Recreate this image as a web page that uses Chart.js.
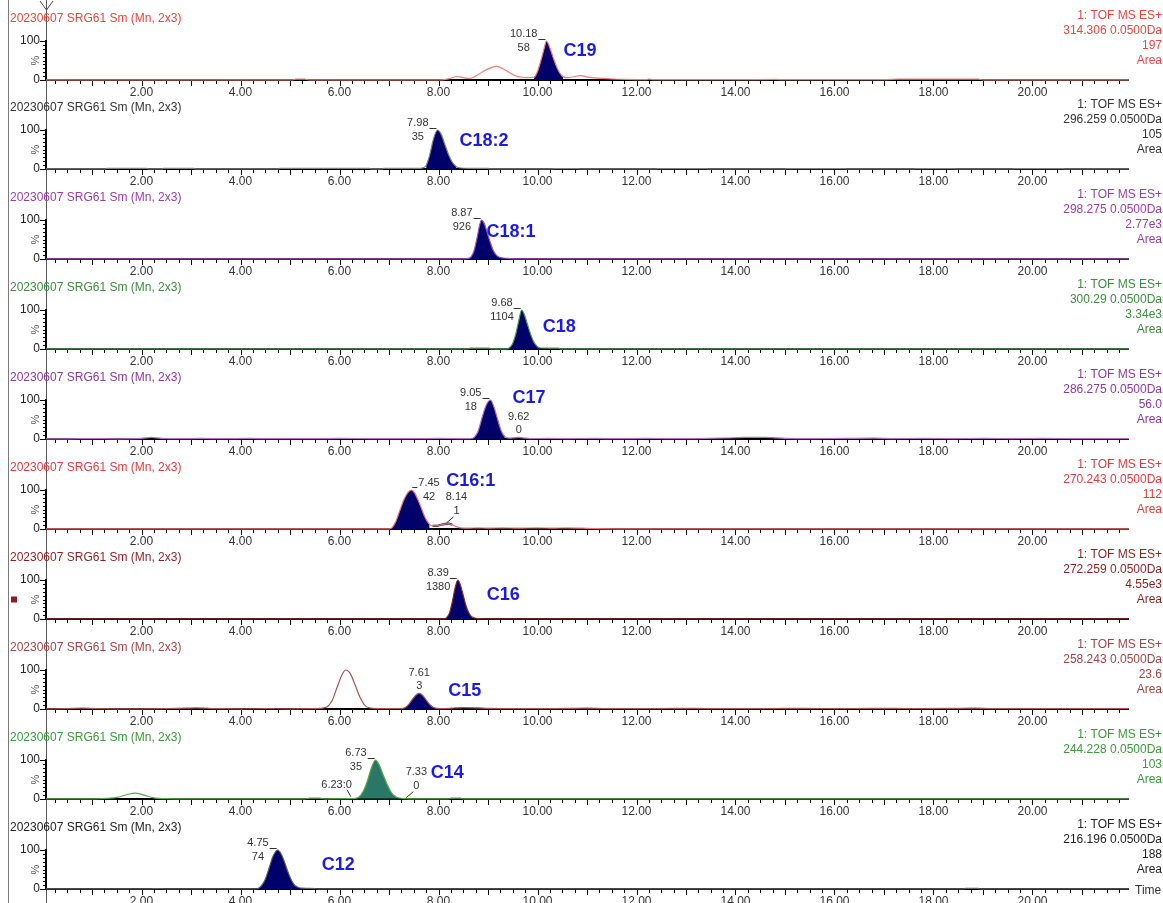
<!DOCTYPE html>
<html>
<head>
<meta charset="utf-8">
<script src="https://cdn.jsdelivr.net/npm/chart.js@4.4.0/dist/chart.umd.min.js"></script>
<style>
  html, body { margin: 0; padding: 0; background: #fff; }
  #wrap { position: relative; width: 1163px; height: 903px; overflow: hidden; background: #fff; }
  #wrap canvas { position: absolute; left: 0; }
  #frame { position: absolute; left: 8px; top: 0; width: 1px; height: 903px; background: #7a7a7a; }
  #cursor { position: absolute; left: 46px; top: 0; width: 1px; height: 903px; background: #555; }
</style>
</head>
<body>
<div id="wrap"><div id="frame"></div><div id="cursor"></div></div>
<script>
// ---- chromatogram data: time (min) vs relative intensity (%) ----
const sampleTitle = '20230607 SRG61 Sm (Mn, 2x3)';
const scanMode = '1: TOF MS ES+';
const compounds = ['C19', 'C18:2', 'C18:1', 'C18', 'C17', 'C16:1', 'C16', 'C15', 'C14', 'C12'];
const massWindows = ['314.306 0.0500Da', '296.259 0.0500Da', '298.275 0.0500Da', '300.29 0.0500Da',
  '286.275 0.0500Da', '270.243 0.0500Da', '272.259 0.0500Da', '258.243 0.0500Da',
  '244.228 0.0500Da', '216.196 0.0500Da'];
const fullScale = ['197', '105', '2.77e3', '3.34e3', '56.0', '112', '4.55e3', '23.6', '103', '188'];
const timeTicks = [2, 4, 6, 8, 10, 12, 14, 16, 18, 20];
const percentTicks = [0, 100];
const timeRange = [0.07, 21.95];

const traceC19 = [[0.07,0.4],[1.0,0.4],[2.0,0.4],[3.0,0.4],[4.0,0.4],[5.05,0.4],[5.12,2],[5.3,2],[5.38,0.4],[6.0,0.4],[7.0,0.4],
  [8.05,0.5],[8.2,3],[8.38,9],[8.5,6],[8.63,4],[8.75,10],[8.9,22],[9.05,31],[9.17,35],[9.3,29],[9.42,20],[9.55,11],[9.68,7],[9.82,6],
  [9.93,7],[10.0,22],[10.08,55],[10.14,84],[10.18,100],[10.24,86],[10.31,60],[10.38,36],[10.45,18],[10.52,8],[10.62,6],[10.75,9],
  [10.87,11],[11.0,8],[11.12,6],[11.3,4],[11.5,2.5],[11.8,1.5],[12.2,1],[12.25,2],[12.35,1],[13.0,0.8],[14.0,0.8],[14.8,1.5],[15.0,0.8],
  [16.0,0.8],[17.0,0.8],[17.3,2],[18.9,2],[19.0,0.5],[20.0,0.5],[21.0,0.5],[21.95,0.5]];
const areaC19 = [9.93, 10.52];
const peaksC19 = [[10.18, '58']];

const traceC18d2 = [[0.07,0.3],[1.25,0.3],[1.3,1.5],[2.1,1.5],[2.15,0.3],[2.4,0.3],[2.45,1.5],[3.05,1.5],[3.1,0.3],[4.75,0.3],[4.8,1.5],
  [6.6,1.5],[6.65,0.3],[6.85,0.3],[6.9,1.5],[7.6,1.5],[7.68,3],[7.75,9],[7.82,35],[7.9,78],[7.98,100],[8.05,90],[8.12,66],[8.2,38],
  [8.28,17],[8.36,6],[8.45,2.5],[8.6,1.5],[9.0,1.5],[9.05,0.3],[10.3,0.3],[10.35,1.2],[10.8,1.2],[10.85,0.3],[12.4,0.3],[12.45,1.2],
  [13.4,1.2],[13.45,0.3],[15.0,0.3],[15.05,1.2],[16.2,1.2],[16.25,0.3],[17.6,0.3],[17.65,1.2],[18.4,1.2],[18.45,0.3],[19.6,0.3],
  [19.65,1.2],[20.6,1.2],[20.65,0.3],[21.95,0.3]];
const areaC18d2 = [7.72, 8.4];
const peaksC18d2 = [[7.98, '35']];

const traceC18d1 = [[0.07,0.3],[8.5,0.3],[8.6,1.5],[8.66,6],[8.72,22],[8.78,55],[8.83,86],[8.87,100],[8.92,92],[8.98,70],[9.04,45],
  [9.1,24],[9.16,11],[9.22,5],[9.3,2.5],[9.45,1.2],[9.6,0.3],[21.95,0.3]];
const areaC18d1 = [8.6, 9.3];
const peaksC18d1 = [[8.87, '926']];

const traceC18 = [[0.07,0.3],[8.6,0.3],[8.64,2],[9.02,2],[9.06,0.3],[9.38,0.5],[9.44,4],[9.5,15],[9.56,38],[9.62,72],[9.68,100],
  [9.73,90],[9.79,66],[9.85,42],[9.91,22],[9.97,10],[10.02,4],[10.06,2.5],[10.42,2],[10.46,0.3],[21.95,0.3]];
const areaC18 = [9.38, 10.06];
const peaksC18 = [[9.68, '1104']];

const traceC17 = [[0.07,0.5],[0.5,0.5],[1.0,1],[1.5,0.5],[2.0,1.5],[2.2,4],[2.4,1.5],[2.8,0.8],[3.2,1.5],[3.6,0.8],[4.2,1.5],[4.5,0.8],
  [5.0,1.2],[5.5,0.8],[6.0,1.5],[6.6,1],[7.0,1.2],[7.5,0.8],[8.0,1.5],[8.4,1],[8.65,1],[8.72,4],[8.8,20],[8.88,55],[8.96,86],[9.05,100],
  [9.12,82],[9.2,48],[9.27,20],[9.34,6],[9.42,2.5],[9.55,3.5],[9.62,4],[9.7,3],[9.85,1],[10.2,1.5],[10.6,1],[11.2,1.5],[11.6,0.8],
  [12.2,1.5],[12.6,1],[13.2,1.2],[13.8,2.5],[14.2,4],[14.6,4],[15.0,1.5],[15.6,1],[16.2,1.5],[16.8,2],[17.2,1],[17.8,1.5],[18.4,1],
  [19.0,1.5],[19.6,1],[20.2,1.5],[20.8,1],[21.4,1.2],[21.95,0.8]];
const areaC17 = [8.68, 9.38];
const peaksC17 = [[9.05, '18'], [9.62, '0']];

const traceC16d1 = [[0.07,0.5],[2.0,0.5],[4.0,0.5],[6.0,0.5],[7.0,0.5],[7.06,3],[7.14,20],[7.22,48],[7.3,75],[7.38,93],[7.45,100],
  [7.52,92],[7.58,76],[7.64,58],[7.7,38],[7.76,22],[7.82,12],[7.88,8],[7.96,8],[8.05,11],[8.14,13],[8.2,14],[8.28,11],[8.36,6],
  [8.45,3],[8.6,2],[8.8,3],[9.0,2],[9.3,3],[9.6,2],[10.0,3],[10.3,2],[10.6,3],[10.9,2],[11.2,1],[12.0,0.5],[21.95,0.5]];
const areaC16d1 = [7.04, 7.84];
const minorC16d1 = [7.88, 8.3];
const peaksC16d1 = [[7.45, '42'], [8.14, '1']];

const traceC16 = [[0.07,0.3],[8.1,0.3],[8.16,3],[8.22,15],[8.28,45],[8.34,82],[8.39,100],[8.44,88],[8.5,60],[8.56,32],[8.62,14],
  [8.68,5],[8.75,2],[8.85,0.8],[9.0,0.3],[21.95,0.3]];
const areaC16 = [8.14, 8.72];
const peaksC16 = [[8.39, '1380']];

const traceC15 = [[0.07,0.5],[0.5,0.8],[0.8,2],[1.1,0.8],[1.5,0.5],[2.0,0.5],[2.5,0.8],[2.9,2],[3.1,3],[3.3,2],[3.6,0.8],[4.0,0.5],
  [4.5,0.8],[5.0,0.5],[5.5,0.8],[5.72,4],[5.85,22],[5.95,55],[6.05,88],[6.13,100],[6.22,90],[6.32,60],[6.42,28],[6.52,8],[6.62,2.5],
  [6.8,1],[7.0,0.8],[7.25,1],[7.32,3],[7.4,12],[7.48,26],[7.56,37],[7.61,40],[7.67,36],[7.74,25],[7.82,12],[7.9,4],[7.98,1.5],
  [8.1,1],[8.3,2.5],[8.5,3.5],[8.8,3],[9.0,1.5],[9.5,1],[10.0,0.8],[10.6,1.5],[11.0,2],[11.4,1],[12.0,0.8],[12.8,1.5],[13.2,1.5],
  [13.6,0.8],[14.5,1],[15.0,1.5],[15.4,1.5],[16.0,1],[16.8,1.5],[17.2,1.5],[17.6,1],[18.4,1.5],[18.8,2],[19.2,1],[20.0,0.8],
  [21.0,1],[21.95,0.8]];
const areaC15 = [7.3, 7.95];
const peaksC15 = [[7.61, '3']];

const traceC14 = [[0.07,0.5],[0.8,0.5],[1.2,1],[1.5,4],[1.7,11],[1.87,15],[2.05,10],[2.25,3],[2.5,1],[3.0,0.5],[4.0,0.5],[5.0,0.5],
  [5.3,0.5],[5.4,2],[5.6,2],[5.7,0.5],[6.23,0.8],[6.32,1.5],[6.4,6],[6.48,20],[6.56,45],[6.64,78],[6.73,100],[6.8,88],[6.88,62],
  [6.96,38],[7.04,18],[7.12,7],[7.2,2.5],[7.33,1],[7.5,0.5],[8.2,0.5],[8.25,2],[8.45,2],[8.5,0.5],[21.95,0.5]];
const areaC14 = [6.32, 7.28];
const peaksC14 = [[6.73, '35'], [6.23, '0'], [7.33, '0']];

const traceC12 = [[0.07,0.3],[2.2,0.3],[2.25,1.2],[2.4,1.2],[2.45,0.3],[4.3,0.3],[4.36,2],[4.42,8],[4.5,25],[4.58,55],[4.66,85],
  [4.75,100],[4.83,88],[4.9,65],[4.97,40],[5.04,20],[5.1,9],[5.17,4],[5.24,2],[5.35,1.5],[5.5,1],[5.6,0.3],[18.6,0.3],[18.65,1.5],
  [18.9,1.5],[18.95,0.3],[21.95,0.3]];
const areaC12 = [4.34, 5.24];
const peaksC12 = [[4.75, '74']];

// ---- appearance ----
const FONT = '"Liberation Sans", Arial, Helvetica, sans-serif';
const textColors  = ['#E8463F', '#333333', '#9A3DA6', '#3C8C3C', '#8A3A9C', '#E23B3B', '#8B1E1E', '#A04545', '#3C983C', '#222222'];
const traceColors = ['#F07C74', '#808080', '#9E50B2', '#4E9E4E', '#B46EC4', '#F07474', '#8E2424', '#A85252', '#58A848', '#606060'];
const fillColors  = ['#00006A', '#00006A', '#00006A', '#00006A', '#00006A', '#00006A', '#00006A', '#00006A', '#2B7767', '#00006A'];
// label placement per peak annotation
const labelModes = [['left'], ['left'], ['left'], ['left'], ['left', 'above'], ['right', 'aboveRight'], ['left'], ['above'],
  ['left', 'inline', 'aboveRight'], ['left']];
// compound name offset from the main apex (px)
const nameOffsets = [[17, 10], [22, 11], [5, 12], [21, 17], [22, -2], [35, -9], [29, 15], [29, -2], [55, 13], [44, 15]];

const panelTraces = [traceC19, traceC18d2, traceC18d1, traceC18, traceC17, traceC16d1, traceC16, traceC15, traceC14, traceC12];
const panelAreas  = [areaC19, areaC18d2, areaC18d1, areaC18, areaC17, areaC16d1, areaC16, areaC15, areaC14, areaC12];
const panelPeaks  = [peaksC19, peaksC18d2, peaksC18d1, peaksC18, peaksC17, peaksC16d1, peaksC16, peaksC15, peaksC14, peaksC12];

const PANEL_PITCH = 89.9;
const FIRST_TOP = 40.5;     // y of the 100 % line in the first panel
const PAD_TOP = 32, PLOT_H = 39, CANVAS_H = 92;
const MINOR_STEP = 0.25;    // minutes between small time ticks

function toXY(arr) { return arr.map(p => ({ x: p[0], y: p[1] })); }
function within(arr, range) { return arr.filter(p => p[0] >= range[0] - 1e-9 && p[0] <= range[1] + 1e-9); }
function valueAt(arr, t) { const p = arr.find(q => Math.abs(q[0] - t) < 1e-9); return p ? p[1] : 0; }

const chromPlugin = {
  id: 'chrom',
  beforeDatasetsDraw(chart) {
    const o = chart.options.plugins.chrom;
    const ctx = chart.ctx, xs = chart.scales.x, ys = chart.scales.y;
    const y0 = ys.getPixelForValue(0), y100 = ys.getPixelForValue(100);
    const xL = xs.getPixelForValue(timeRange[0]), xR = xs.getPixelForValue(timeRange[1]);
    ctx.save();
    ctx.font = '12px ' + FONT;
    ctx.textBaseline = 'middle';
    // trace header
    ctx.fillStyle = o.textColor;
    ctx.textAlign = 'left';
    ctx.fillText(sampleTitle, 10, y100 - 22);
    ctx.textAlign = 'right';
    [scanMode, massWindows[o.i], fullScale[o.i], 'Area'].forEach((t, k) => {
      ctx.fillText(t, 1162, y100 - 25 + k * 15);
    });
    // y axis
    ctx.strokeStyle = '#000';
    ctx.lineWidth = 2;
    ctx.beginPath(); ctx.moveTo(xL, y100 - 1); ctx.lineTo(xL, y0); ctx.stroke();
    ctx.lineWidth = 1;
    ctx.beginPath();
    for (let v = 0; v <= 100; v += 10) {
      const y = Math.round(ys.getPixelForValue(v)) + 0.5;
      const len = (v % 100 === 0) ? 6 : 3;
      ctx.moveTo(xL - len, y); ctx.lineTo(xL, y);
    }
    ctx.stroke();
    ctx.fillStyle = '#222';
    percentTicks.forEach(v => ctx.fillText(String(v), xL - 6, ys.getPixelForValue(v)));
    ctx.save();
    ctx.translate(36, (y0 + y100) / 2);
    ctx.rotate(-Math.PI / 2);
    ctx.textAlign = 'center';
    ctx.font = '11px ' + FONT;
    ctx.fillStyle = '#555';
    ctx.fillText('%', 0, 0);
    ctx.restore();
    // x axis
    ctx.strokeStyle = '#000';
    ctx.lineWidth = 2;
    ctx.beginPath(); ctx.moveTo(xL - 1, y0); ctx.lineTo(xR, y0); ctx.stroke();
    ctx.lineWidth = 1;
    ctx.beginPath();
    for (let k = Math.ceil(timeRange[0] / MINOR_STEP); k * MINOR_STEP <= timeRange[1]; k++) {
      const x = Math.round(xs.getPixelForValue(k * MINOR_STEP)) + 0.5;
      const len = (k % 4 === 0) ? 6 : 4;
      ctx.moveTo(x, y0); ctx.lineTo(x, y0 + len);
    }
    ctx.stroke();
    ctx.fillStyle = '#333';
    ctx.textAlign = 'center';
    timeTicks.forEach(t => ctx.fillText(t.toFixed(2), xs.getPixelForValue(t), y0 + 13));
    if (o.i === 9) {
      ctx.textAlign = 'left';
      ctx.fillText('Time', xR + 6, y0 + 2);
    }
    if (o.i === 6) {
      ctx.fillStyle = '#8B1E1E';
      ctx.fillRect(11, (y0 + y100) / 2 - 3, 6, 6);
    }
    ctx.restore();
  },
  afterDatasetsDraw(chart) {
    const o = chart.options.plugins.chrom;
    const ctx = chart.ctx, xs = chart.scales.x, ys = chart.scales.y;
    const trace = panelTraces[o.i];
    ctx.save();
    ctx.textBaseline = 'middle';
    ctx.font = '11px ' + FONT;
    ctx.fillStyle = '#333';
    ctx.strokeStyle = '#333';
    ctx.lineWidth = 1;
    panelPeaks[o.i].forEach((pk, k) => {
      const [rt, area] = pk;
      const mode = labelModes[o.i][k];
      const ax = xs.getPixelForValue(rt), ay = ys.getPixelForValue(valueAt(trace, rt));
      const rtText = rt.toFixed(2);
      if (mode === 'left' || mode === 'right') {
        const w = ctx.measureText(rtText).width;
        const cx = mode === 'left' ? ax - 9 - w / 2 : ax + 7 + w / 2;
        ctx.textAlign = 'center';
        ctx.fillText(rtText, cx, ay - 7);
        ctx.fillText(area, cx, ay + 7);
        ctx.beginPath();
        if (mode === 'left') { ctx.moveTo(ax - 8, ay - 1.5); ctx.lineTo(ax - 1, ay - 1.5); }
        else { ctx.moveTo(ax + 1, ay - 2.5); ctx.lineTo(ax + 6, ay - 2.5); }
        ctx.stroke();
      } else if (mode === 'above') {
        ctx.textAlign = 'center';
        ctx.fillText(rtText, ax, ay - 20);
        ctx.fillText(area, ax, ay - 7);
      } else if (mode === 'aboveRight') {
        ctx.textAlign = 'center';
        ctx.fillText(rtText, ax + 11, ay - 27);
        ctx.fillText(area, ax + 11, ay - 13);
        ctx.beginPath(); ctx.moveTo(ax + 8, ay - 7); ctx.lineTo(ax + 1, ay - 1); ctx.stroke();
      } else if (mode === 'inline') {
        ctx.textAlign = 'right';
        ctx.fillText(rtText + ':' + area, ax + 1, ay - 14);
        ctx.beginPath(); ctx.moveTo(ax - 4, ay - 9); ctx.lineTo(ax, ay - 2); ctx.stroke();
      }
    });
    // compound name
    const main = panelPeaks[o.i][0];
    const mx = xs.getPixelForValue(main[0]), my = ys.getPixelForValue(valueAt(trace, main[0]));
    ctx.font = 'bold 18px ' + FONT;
    ctx.fillStyle = '#1A1AE6';
    ctx.textAlign = 'left';
    ctx.fillText(compounds[o.i], mx + nameOffsets[o.i][0], my + nameOffsets[o.i][1]);
    ctx.restore();
  }
};

const wrap = document.getElementById('wrap');
compounds.forEach((name, i) => {
  const top = Math.round(FIRST_TOP + PANEL_PITCH * i - PAD_TOP);
  const cv = document.createElement('canvas');
  cv.width = 1163; cv.height = CANVAS_H;
  cv.style.top = top + 'px';
  cv.style.width = '1163px'; cv.style.height = CANVAS_H + 'px';
  wrap.appendChild(cv);

  const trace = panelTraces[i];
  const datasets = [
    { label: name, data: toXY(trace), borderColor: traceColors[i], borderWidth: 1.2, pointRadius: 0,
      fill: false, cubicInterpolationMode: 'monotone', order: 0 },
    { label: name + ' area', data: toXY(within(trace, panelAreas[i])), borderWidth: 0, pointRadius: 0,
      backgroundColor: fillColors[i], borderColor: fillColors[i], fill: 'origin', cubicInterpolationMode: 'monotone', order: 2 }
  ];
  if (i === 5) {
    datasets.push({ label: name + ' minor', data: toXY(within(trace, minorC16d1)), borderColor: '#1a1a3a', borderWidth: 2.2,
      pointRadius: 0, fill: false, cubicInterpolationMode: 'monotone', order: 1 });
  }
  if (i === 8) {
    datasets.push({ label: name + ' base', data: toXY(within(trace, areaC14)).map(p => ({ x: p.x, y: 0.8 })), borderColor: '#143a30',
      borderWidth: 1.5, pointRadius: 0, fill: false, order: 1 });
  }

  new Chart(cv, {
    type: 'line',
    data: { datasets },
    options: {
      responsive: false,
      animation: false,
      devicePixelRatio: 1,
      clip: false,
      layout: { padding: { left: 46, right: 34, top: PAD_TOP, bottom: CANVAS_H - PAD_TOP - PLOT_H } },
      scales: {
        x: { type: 'linear', min: timeRange[0], max: timeRange[1], display: false },
        y: { type: 'linear', min: 0, max: 100, display: false }
      },
      plugins: {
        legend: { display: false },
        tooltip: { enabled: false },
        chrom: { i, textColor: textColors[i] }
      }
    },
    plugins: [chromPlugin]
  });
});

// cursor mark at the top of the time cursor line
(function () {
  const cv = document.createElement('canvas');
  cv.width = 30; cv.height = 16;
  cv.style.left = '32px'; cv.style.top = '0px';
  wrap.appendChild(cv);
  const c = cv.getContext('2d');
  c.strokeStyle = '#444'; c.lineWidth = 1;
  c.beginPath(); c.moveTo(8, 1); c.lineTo(14.5, 10); c.lineTo(21, 1); c.stroke();
})();
</script>
</body>
</html>
